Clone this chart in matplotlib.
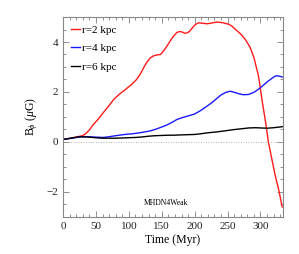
import matplotlib
matplotlib.use("Agg")
import matplotlib.pyplot as plt
from matplotlib.ticker import MultipleLocator

plt.rcParams['font.family'] = ['Liberation Serif', 'DejaVu Serif']
plt.rcParams['mathtext.fontset'] = 'custom'
plt.rcParams['mathtext.rm'] = 'Liberation Serif'
plt.rcParams['mathtext.it'] = 'Liberation Serif:italic'

# r = 2 kpc
t_r2 = [0, 10, 20, 28, 33, 40, 46, 53, 61, 69, 77, 85, 92, 98, 104, 111, 117, 122, 127, 132,
        137, 142, 148, 153, 158, 163, 168, 173, 177, 181, 185, 188, 192, 196, 201, 206, 212,
        219, 226, 234, 243, 252, 257, 262, 270, 277, 284, 290, 297, 303, 308, 312, 317, 322,
        328, 333]
b_r2 = [0.1, 0.14, 0.2, 0.24, 0.3, 0.48, 0.7, 0.9, 1.17, 1.43, 1.7, 1.9, 2.04, 2.17, 2.3,
        2.48, 2.7, 2.95, 3.18, 3.35, 3.44, 3.48, 3.5, 3.65, 3.84, 4.05, 4.24, 4.38, 4.42,
        4.4, 4.35, 4.36, 4.42, 4.55, 4.7, 4.77, 4.75, 4.73, 4.76, 4.8, 4.77, 4.71, 4.63,
        4.5, 4.32, 4.1, 3.8, 3.38, 2.64, 1.57, 0.75, 0.0, -0.65, -1.3, -1.95, -2.6]
# r = 4 kpc
t_r4 = [0, 13, 26, 36, 45, 53, 61, 70, 80, 88, 97, 106, 115, 124, 132, 141, 150, 157, 163,
        168, 173, 182, 191, 200, 208, 217, 226, 234, 241, 248, 254, 260, 267, 274, 282, 291,
        300, 309, 318, 322, 325, 329, 333]
b_r4 = [0.1, 0.15, 0.2, 0.21, 0.2, 0.19, 0.18, 0.21, 0.25, 0.28, 0.31, 0.33, 0.36, 0.4,
        0.44, 0.51, 0.6, 0.67, 0.75, 0.82, 0.9, 0.98, 1.05, 1.12, 1.24, 1.4, 1.57, 1.75,
        1.9, 1.99, 2.03, 1.99, 1.93, 1.89, 1.9, 2.0, 2.17, 2.38, 2.56, 2.63, 2.65, 2.63, 2.6]
# r = 6 kpc
t_r6 = [0, 13, 26, 36, 45, 53, 61, 70, 80, 90, 100, 110, 120, 130, 140, 150, 160, 168,
        177, 188, 200, 210, 221, 233, 245, 258, 272, 282, 292, 301, 310, 320, 333]
b_r6 = [0.1, 0.16, 0.21, 0.2, 0.18, 0.16, 0.15, 0.15, 0.15, 0.16, 0.17, 0.18, 0.2, 0.23,
        0.25, 0.26, 0.27, 0.27, 0.28, 0.29, 0.3, 0.33, 0.37, 0.4, 0.44, 0.49, 0.53, 0.56,
        0.57, 0.56, 0.55, 0.57, 0.61]

series = [("r=2 kpc", t_r2, b_r2, "#ff1a1a"),
          ("r=4 kpc", t_r4, b_r4, "#1a1aff"),
          ("r=6 kpc", t_r6, b_r6, "black")]

fig = plt.figure(figsize=(2.99, 2.54), dpi=100)
ax = fig.add_axes([0.211, 0.146, 0.735, 0.787])

for label, t, b, c in series:
    ax.plot(t, b, color=c, lw=1.0, label=label)

ax.axhline(0, color='#999999', lw=0.6, ls=(0, (1, 2)))

ax.set_xlim(0, 334)
ax.set_ylim(-3, 5)
ax.xaxis.set_major_locator(MultipleLocator(50))
ax.xaxis.set_minor_locator(MultipleLocator(10))
ax.yaxis.set_major_locator(MultipleLocator(2))
ax.yaxis.set_minor_locator(MultipleLocator(0.5))
ax.tick_params(which='both', direction='in', top=True, right=True, colors='#666666',
               labelcolor='#222222', labelsize=8)
ax.tick_params(which='major', length=4, width=0.5)
ax.tick_params(which='minor', length=2, width=0.5)
for s in ax.spines.values():
    s.set_color('#888888')
    s.set_linewidth(0.8)

ax.set_xlabel('Time (Myr)', fontsize=8.5, labelpad=2)
ax.set_ylabel(r'B$_\phi$ ($\mu$G)', fontsize=8.5, labelpad=5)

ax.text(0.47, 0.07, 'MHDN4Weak', transform=ax.transAxes, fontsize=5.5,
        ha='center', va='center')

leg = ax.legend(loc='upper left', frameon=False, fontsize=8, handlelength=0.8,
                handletextpad=0.2, labelspacing=0.8, borderaxespad=0.3)

fig.savefig('out.png', dpi=100)
